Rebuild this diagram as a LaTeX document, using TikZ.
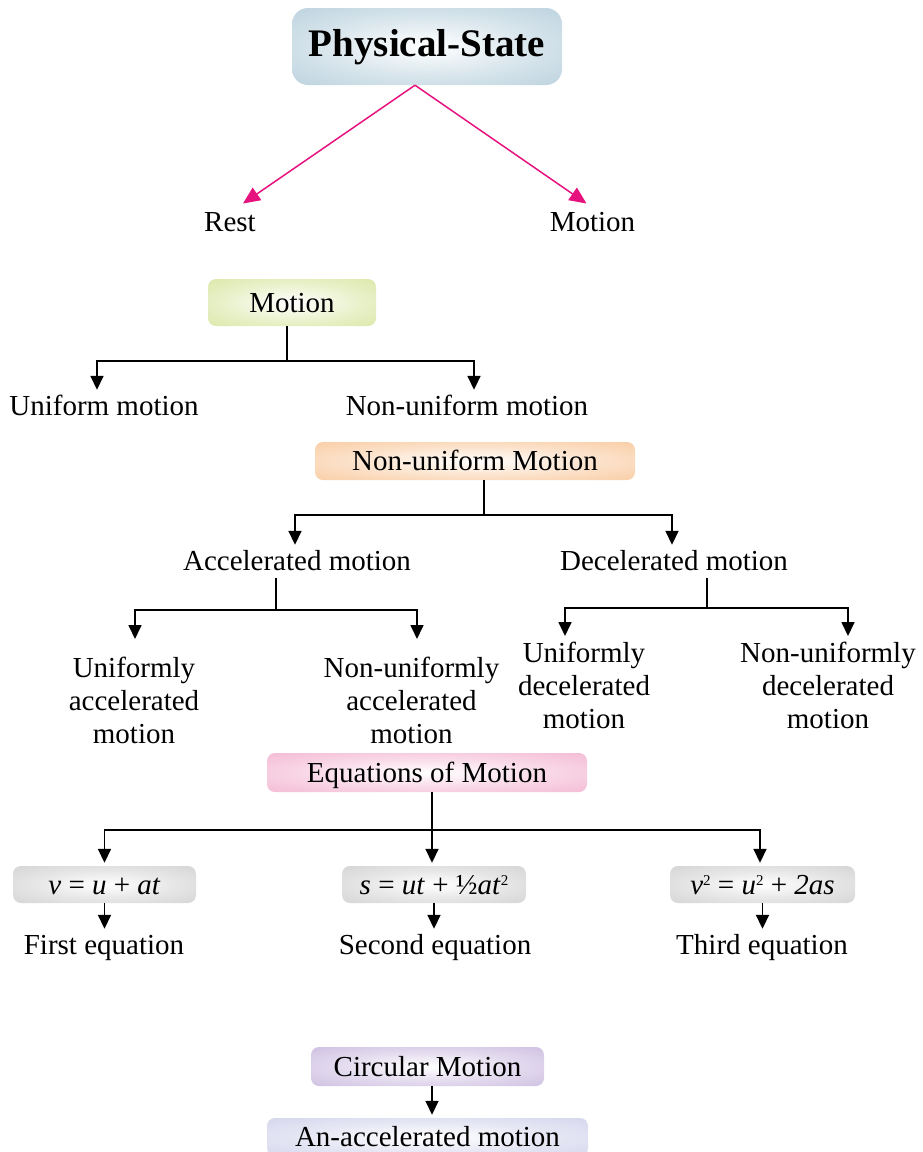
\documentclass[tikz,border=0pt]{standalone}
\usepackage{fontspec}
\setmainfont{Liberation Serif}
\usepackage{tikz}
\usetikzlibrary{arrows.meta,positioning}
\usepackage{xcolor}

\definecolor{stateblue}{HTML}{A6C4D4}
\definecolor{motgreen}{HTML}{CFE08C}
\definecolor{nuorange}{HTML}{F7BC86}
\definecolor{eqpink}{HTML}{F0A4C6}
\definecolor{eqgray}{HTML}{C6C6C6}
\definecolor{circpurple}{HTML}{BEABD8}
\definecolor{acclav}{HTML}{C6C8E6}
\definecolor{arrowpink}{HTML}{E6137F}

\colorlet{glowout}{gray}
\colorlet{glowmid}{gray}
\pgfdeclareradialshading[glowout,glowmid]{glow}{\pgfpoint{0bp}{0bp}}{color(0bp)=(white); color(20bp)=(glowmid); color(50bp)=(glowout)}

\newcommand{\sq}{{\fontsize{15}{15}\selectfont\raisebox{9pt}{2}}}

\tikzset{
  glowbox/.style={/utils/exec={\colorlet{glowout}{#1}\colorlet{glowmid}{#1!45!white}},
    shading=glow, rounded corners=8pt, inner sep=0pt, text height=22pt, text depth=3pt},
  lbl/.style={inner sep=2pt, text height=20pt, text depth=6pt},
  mlbl/.style={inner sep=2pt, align=center, anchor=north, font=\fontsize{29}{33}\selectfont},
  stem/.style={line width=1.7pt},
  arr/.style={line width=1.7pt, -{Triangle[length=14pt,width=13pt]}, shorten >=3pt},
  pinkarr/.style={line width=1.5pt, draw=arrowpink, -{Triangle[length=17pt,width=15pt]}}
}

\begin{document}
\begin{tikzpicture}[x=1pt, y=-1pt, every node/.style={font=\fontsize{29}{33}\selectfont}]
\useasboundingbox (0,0) rectangle (923,1152);

% physical state
\node[glowbox=stateblue, minimum width=270pt, minimum height=77pt, rounded corners=16pt,
  font=\fontsize{39}{44}\selectfont\bfseries, text height=27pt, text depth=8pt] (state) at (427,46.5) {Physical-State};
\node[lbl] (rest) at (230,224.7) {Rest};
\node[lbl] (moving) at (592.5,224.7) {Motion};
\draw[pinkarr] ([xshift=-12pt]state.south) -- ([xshift=13pt,yshift=6pt]rest.north);
\draw[pinkarr] ([xshift=-12pt]state.south) -- ([xshift=-6pt,yshift=6pt]moving.north);

% motion
\node[glowbox=motgreen, minimum width=168pt, minimum height=47pt] (motion) at (292,302.5) {Motion};
\node[lbl] (uniform) at (104,408) {Uniform motion};
\node[lbl] (nonuniform) at (467,408) {Non-uniform motion};
\coordinate (motfork) at (287,361);
\draw[stem] (motfork |- motion.south) -- (motfork);
\draw[arr] (motfork) -| ([xshift=-7pt]uniform.north);
\draw[arr] (motfork) -| ([xshift=7pt]nonuniform.north);

% non-uniform motion
\node[glowbox=nuorange, minimum width=320pt, minimum height=38pt] (nubox) at (475,461) {Non-uniform Motion};
\node[lbl] (accel) at (297,563) {Accelerated motion};
\node[lbl] (decel) at (674,563) {Decelerated motion};
\coordinate (nufork) at (484,515);
\draw[stem] (nufork |- nubox.south) -- (nufork);
\draw[arr] (nufork) -| ([xshift=-2pt]accel.north);
\draw[arr] (nufork) -| ([xshift=-2pt]decel.north);

\node[mlbl] (ua) at (134,655) {Uniformly\\accelerated\\motion};
\node[mlbl] (na) at (411.5,655) {Non-uniformly\\accelerated\\motion};
\coordinate (accfork) at (276,610);
\draw[stem] (accfork |- accel.south) -- (accfork);
\draw[arr] (accfork) -| ([xshift=1pt,yshift=13pt]ua.north);
\draw[arr] (accfork) -| ([xshift=5.5pt,yshift=13pt]na.north);

\node[mlbl] (ud) at (584,640) {Uniformly\\decelerated\\motion};
\node[mlbl] (nd) at (828,640) {Non-uniformly\\decelerated\\motion};
\coordinate (decfork) at (707,608);
\draw[stem] (decfork |- decel.south) -- (decfork);
\draw[arr] (decfork) -| ([xshift=-19pt,yshift=1pt]ud.north);
\draw[arr] (decfork) -| ([xshift=20pt,yshift=1pt]nd.north);

% equations
\node[glowbox=eqpink, minimum width=320pt, minimum height=39pt] (eqbox) at (427,772.5) {Equations of Motion};
\node[glowbox=eqgray, minimum width=183pt, minimum height=37pt] (first) at (104.5,884.5) {\textit{v} = \textit{u} + \textit{at}};
\node[glowbox=eqgray, minimum width=184pt, minimum height=37pt] (second) at (434,884.5) {\textit{s} = \textit{ut} + ½\textit{at}\sq};
\node[glowbox=eqgray, minimum width=185pt, minimum height=37pt] (third) at (762.5,884.5) {\textit{v}\sq{} = \textit{u}\sq{} + \textit{2as}};
\coordinate (eqfork) at (432,830);
\draw[stem] (eqfork |- eqbox.south) -- (eqfork);
\draw[arr] (eqfork) -| (first.north);
\draw[arr] (eqfork) -- (eqfork |- second.north);
\draw[arr] (eqfork) -| ([xshift=-2.5pt]third.north);
\node[lbl] (first-txt) at (104,947) {First equation};
\node[lbl] (second-txt) at (435,947) {Second equation};
\node[lbl] (third-txt) at (762,947) {Third equation};
\foreach \eq in {first, second, third}
  \draw[arr] (\eq.south) -- (\eq.south |- \eq-txt.north);

% circular motion
\node[glowbox=circpurple, minimum width=233pt, minimum height=39pt] (circ) at (427.5,1066.5) {Circular Motion};
\node[glowbox=acclav, minimum width=321pt, minimum height=38pt] (anacc) at (427.5,1137) {An-accelerated motion};
\draw[arr] ([xshift=4.5pt]circ.south) -- ([xshift=4.5pt]anacc.north);

\end{tikzpicture}
\end{document}
